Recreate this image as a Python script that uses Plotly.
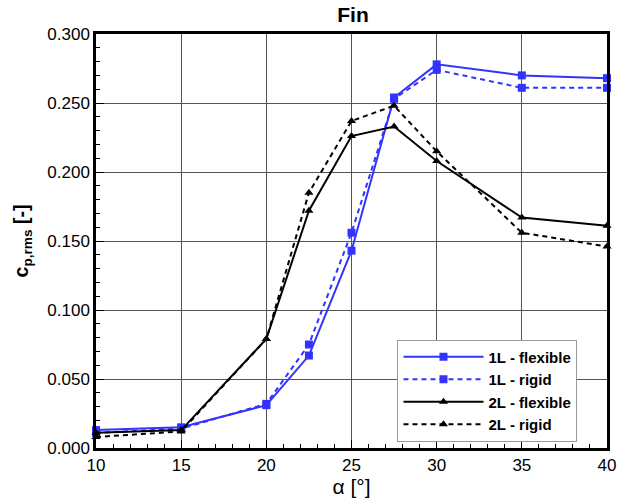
import plotly.graph_objects as go

alpha = [10, 15, 20, 22.5, 25, 27.5, 30, 35, 40]
one_l_flexible = [0.013, 0.015, 0.031, 0.067, 0.143, 0.254, 0.278, 0.270, 0.268]
one_l_rigid = [0.011, 0.014, 0.032, 0.075, 0.156, 0.253, 0.274, 0.261, 0.261]
two_l_flexible = [0.011, 0.013, 0.079, 0.172, 0.226, 0.233, 0.208, 0.167, 0.161]
two_l_rigid = [0.008, 0.012, 0.079, 0.185, 0.237, 0.248, 0.215, 0.156, 0.146]

blue = "#3333ff"
fig = go.Figure()
series = [
    ("1L - flexible", one_l_flexible, blue, "solid", "square"),
    ("1L - rigid", one_l_rigid, blue, "5px,4px", "square"),
    ("2L - flexible", two_l_flexible, "black", "solid", "triangle-up"),
    ("2L - rigid", two_l_rigid, "black", "5px,4px", "triangle-up"),
]
for name, ys, col, dash, sym in series:
    fig.add_trace(go.Scatter(
        x=alpha, y=ys, name=name, mode="lines+markers",
        line=dict(color=col, width=2, dash=dash),
        marker=dict(symbol=sym, size=8, color=col),
        cliponaxis=False,
    ))

font_fam = "Liberation Sans, Arial"
axis_common = dict(
    showline=True, linecolor="black", linewidth=2.5, mirror=True,
    showgrid=True, gridcolor="#555555", gridwidth=1,
    ticks="inside", ticklen=8, tickcolor="black", tickwidth=1,
    zeroline=False, automargin=False,
    tickfont=dict(family=font_fam, size=17, color="black"),
)
fig.update_xaxes(
    range=[10, 40], dtick=5, tick0=10,
    minor=dict(dtick=1, ticks="inside", ticklen=4, tickcolor="black", showgrid=False),
    title=dict(text="α [°]", font=dict(family=font_fam, size=21, color="black"), standoff=4),
    **axis_common,
)
fig.update_yaxes(
    range=[0, 0.3], dtick=0.05, tickformat=".3f",
    minor=dict(dtick=0.01, ticks="inside", ticklen=4, tickcolor="black", showgrid=False),
    title=dict(text="<b>c<sub>p,rms</sub> [-]</b>", font=dict(family=font_fam, size=19.5, color="black"), standoff=14),
    **axis_common,
)
fig.update_layout(
    width=618, height=499,
    margin=dict(l=96, r=11, t=34, b=51, autoexpand=False),
    plot_bgcolor="white", paper_bgcolor="white",
    title=dict(text="<b>Fin</b>", x=353 / 618, xref="container", y=1, yref="container",
               xanchor="center", yanchor="top", pad=dict(t=7),
               font=dict(family=font_fam, size=21, color="black"), automargin=False),
    legend=dict(
        x=0.59, y=0.262, xanchor="left", yanchor="top",
        bgcolor="white", bordercolor="#999999", borderwidth=1,
        font=dict(family=font_fam, size=15, color="black", weight="bold"),
        itemwidth=80, tracegroupgap=0,
    ),
    showlegend=True,
)
fig.write_html(
    "out.html",
    config={"displayModeBar": False},
    post_script="document.body.style.margin='0';document.body.style.padding='0';",
)
